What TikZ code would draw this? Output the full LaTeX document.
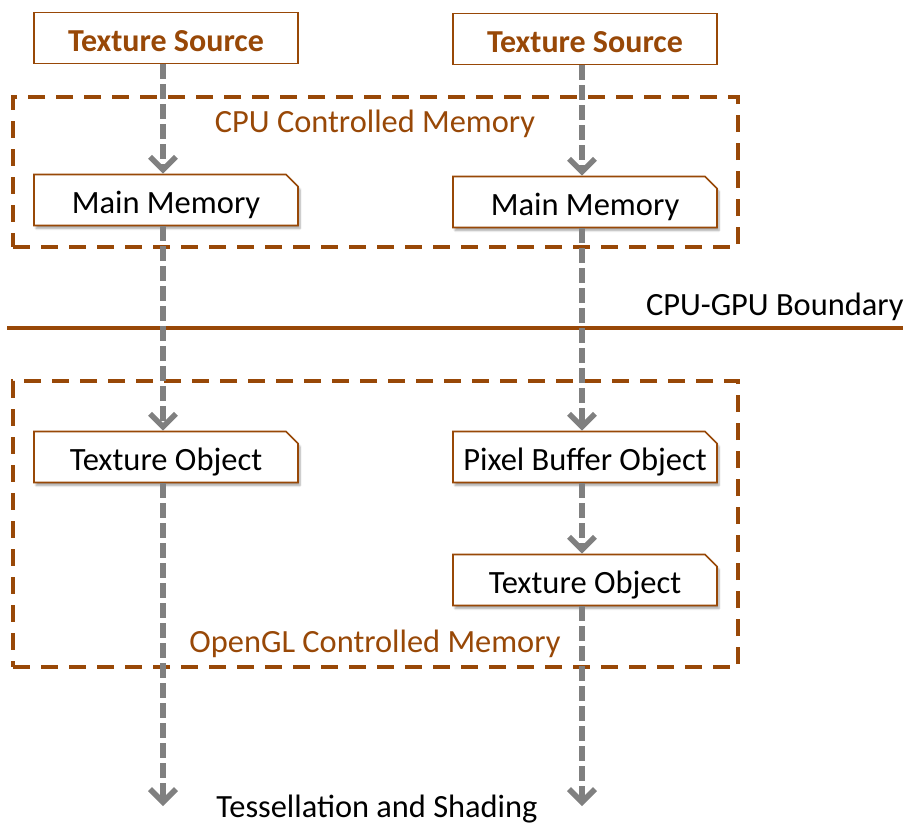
\documentclass[tikz,border=0pt]{standalone}
\usepackage{fontspec}
\setmainfont{Carlito}
\usetikzlibrary{arrows.meta,shapes.misc,shadows.blur}
\definecolor{rust}{HTML}{984807}
\definecolor{flowgray}{HTML}{808080}
\tikzset{
  srcbox/.style={draw=rust, line width=1.6pt, fill=white, minimum width=264pt,
    minimum height=51pt, inner sep=0pt, text=rust, text height=27pt, text depth=0pt,
    font=\fontsize{32}{36}\selectfont\bfseries},
  membox/.style={chamfered rectangle, chamfered rectangle corners=north east,
    chamfered rectangle xsep=6pt, chamfered rectangle ysep=6pt,
    draw=rust, line width=1.6pt, fill=white, minimum width=264pt,
    minimum height=51pt, inner sep=0pt, text=black, text height=27pt, text depth=0pt,
    font=\fontsize{32.5}{36}\selectfont,
    blur shadow={shadow xshift=2pt, shadow yshift=-3pt, shadow blur steps=6, shadow opacity=35}},
  zone/.style={draw=rust, line width=4pt, dash pattern=on 17pt off 11pt,
    minimum width=725pt, inner sep=0pt},
  zonelabel/.style={text=rust, font=\fontsize{32.4}{36}\selectfont},
  plain/.style={text=black, font=\fontsize{32.4}{36}\selectfont},
  flow/.style={draw=flowgray, line width=5.5pt, dash pattern=on 15pt off 5pt,
    -{Straight Barb[length=13pt,width=26pt,line width=5.5pt]}}
}
\begin{document}
\begin{tikzpicture}[x=1pt,y=-1pt]
  \useasboundingbox (0,0) rectangle (912,828);

  % memory regions
  \node[zone, minimum height=150pt] (cpu) at (375.5,172) {};
  \node[zone, minimum height=286pt] (gl) at (375.5,524) {};
  \node[zonelabel] (cpulabel) at (375,124) {CPU Controlled Memory};
  \node[zonelabel] (gllabel) at (375,644) {OpenGL Controlled Memory};

  % CPU-GPU boundary
  \coordinate (bl) at (7,328);
  \coordinate (br) at (903,328);
  \draw[rust, line width=3.5pt] (bl) -- (br);
  \node[plain, anchor=east] (bnd) at (907,307) {CPU-GPU Boundary};

  % left pipeline
  \node[srcbox] (ts1) at (166,38) {Texture Source};
  \node[membox] (mm1) at (166,200) {Main Memory};
  \node[membox] (to1) at (166,457) {Texture Object};

  % right pipeline
  \node[srcbox] (ts2) at (585,39) {Texture Source};
  \node[membox] (mm2) at (585,202) {Main Memory};
  \node[membox] (pbo) at (585,457) {Pixel Buffer Object};
  \node[membox] (to2) at (585,580) {Texture Object};

  % rendering stage
  \node[plain] (tess) at (377,809) {Tessellation and Shading};
  \coordinate (endL) at (163,806);
  \coordinate (endR) at (582,806);

  % data flow
  \draw[flow] ([xshift=-3pt]ts1.south) -- ([xshift=-3pt]mm1.north);
  \draw[flow] ([xshift=-3pt]mm1.south) -- ([xshift=-3pt]to1.north);
  \draw[flow] ([xshift=-3pt]to1.south) -- (endL);
  \draw[flow] ([xshift=-3pt]ts2.south) -- ([xshift=-3pt]mm2.north);
  \draw[flow] ([xshift=-3pt]mm2.south) -- ([xshift=-3pt]pbo.north);
  \draw[flow] ([xshift=-3pt]pbo.south) -- ([xshift=-3pt]to2.north);
  \draw[flow] ([xshift=-3pt]to2.south) -- (endR);
\end{tikzpicture}
\end{document}
